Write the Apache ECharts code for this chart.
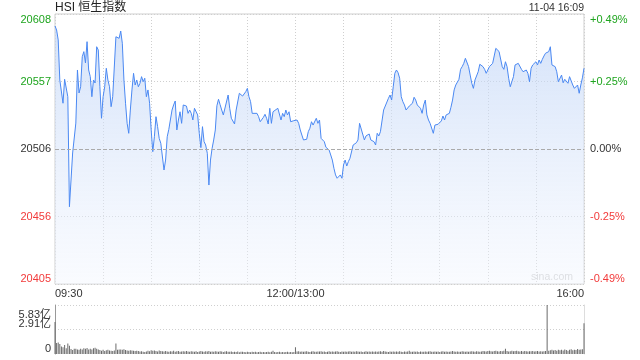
<!DOCTYPE html>
<html><head><meta charset="utf-8">
<script src="https://cdn.jsdelivr.net/npm/echarts@6/dist/echarts.min.js"></script>
<style>html,body{margin:0;padding:0;background:#fff}#c{width:640px;height:360px}</style>
</head><body><div id="c"></div>
<script>
// ---- data ----
const title = 'HSI 恒生指数';
const stamp = '11-04 16:09';
const prevClose = 20506.5;
const priceTickLabels = ['20405', '20456', '20506', '20557', '20608'];
const pctTickLabels = ['-0.49%', '-0.25%', '0.00%', '+0.25%', '+0.49%'];
const volTickLabels = ['0', '2.91亿', '5.83亿'];
const xTickMinutes = [0, 150, 330];
const xTickLabels = ['09:30', '12:00/13:00', '16:00'];
// trading minute offset from 09:30 (lunch break removed)
const minutes = [0,1,2,3,4,5,6,7,8,9,10,11,13,14,15,16,17,18,19,20,21,22,23,24,25,26,27,28,29,30,31,32,33,34,35,36,38,39,40,41,42,43,44,45,46,47,48,49,50,51,52,53,54,55,56,57,58,59,60,61,62,63,64,65,66,67,68,69,70,71,72,73,74,75,76,77,78,79,80,81,82,83,84,85,86,87,88,89,90,91,92,93,94,95,96,97,98,99,100,101,102,103,104,105,106,108,109,110,111,112,113,115,116,117,119,120,121,122,123,124,126,127,128,130,131,132,133,134,135,136,137,139,140,141,142,143,144,145,146,147,149,150,151,152,153,154,155,157,158,159,160,161,162,163,164,165,166,167,168,169,170,171,172,173,174,175,176,177,178,179,180,181,182,183,184,185,186,187,188,189,190,191,193,194,195,196,197,198,199,200,201,202,203,204,205,206,208,209,210,211,212,213,214,215,216,217,218,219,220,221,222,223,224,225,226,227,228,229,230,231,232,233,234,235,236,237,238,239,240,241,242,243,244,245,246,247,248,249,250,251,252,253,254,255,256,257,258,259,260,261,262,263,264,265,266,267,268,269,270,271,272,273,274,275,276,277,278,279,280,281,282,283,284,285,286,287,288,289,290,291,292,293,294,295,296,297,298,299,300,301,302,303,304,305,306,307,308,309,310,311,312,313,314,315,316,317,318,319,320,321,322,323,324,325,326,327,328,329,330];
const prices = [20599.0,20596.0,20588.5,20558.4,20558.4,20540.9,20558.9,20559.1,20545.8,20463.1,20483.2,20503.5,20526.0,20565.9,20548.6,20553.3,20575.9,20579.7,20571.2,20587.2,20565.9,20560.9,20545.8,20558.4,20556.1,20583.4,20580.9,20553.3,20529.6,20545.8,20553.3,20567.2,20558.4,20553.3,20538.3,20545.8,20590.9,20589.7,20589.7,20595.2,20586.0,20558.4,20540.9,20525.8,20518.3,20535.8,20550.9,20563.4,20554.6,20558.4,20553.3,20555.9,20560.9,20557.1,20559.7,20545.8,20550.9,20540.9,20520.8,20504.5,20515.7,20530.8,20523.3,20514.5,20510.8,20509.5,20490.7,20498.2,20515.7,20521.3,20521.3,20535.8,20539.6,20542.6,20520.8,20528.3,20534.5,20525.8,20539.6,20538.8,20538.8,20533.3,20535.8,20533.3,20528.3,20537.1,20535.8,20532.1,20518.3,20507.5,20523.3,20512.0,20509.5,20503.3,20479.4,20498.2,20507.0,20513.3,20520.8,20539.0,20543.9,20539.8,20535.8,20532.1,20533.3,20547.1,20537.1,20529.6,20528.3,20525.3,20535.8,20548.4,20548.4,20546.3,20549.6,20552.1,20545.8,20542.1,20533.3,20534.5,20533.3,20530.8,20527.0,20530.3,20532.6,20529.6,20525.3,20537.1,20525.8,20534.5,20535.8,20537.1,20536.3,20528.3,20533.3,20530.8,20535.8,20532.1,20534.5,20527.0,20527.8,20527.0,20528.3,20525.8,20520.8,20517.0,20513.3,20513.8,20519.5,20522.1,20527.0,20524.5,20525.3,20529.6,20525.8,20528.3,20514.5,20513.3,20512.0,20507.8,20508.2,20505.7,20502.0,20498.2,20492.0,20487.0,20484.5,20483.2,20487.0,20484.5,20494.5,20498.2,20493.7,20497.0,20499.5,20500.7,20509.5,20509.5,20511.2,20513.3,20525.8,20525.8,20513.3,20516.3,20517.0,20517.8,20513.3,20512.7,20512.0,20509.5,20518.3,20516.3,20519.5,20519.5,20535.8,20537.1,20544.6,20547.1,20543.3,20553.3,20563.4,20565.9,20563.9,20559.7,20545.8,20542.1,20539.6,20535.8,20535.8,20538.8,20539.6,20540.9,20545.4,20543.3,20539.6,20539.6,20537.1,20533.3,20539.6,20543.3,20532.1,20528.3,20525.8,20524.5,20518.3,20524.5,20524.5,20525.1,20526.3,20527.6,20531.3,20528.3,20532.1,20533.3,20533.3,20537.9,20543.3,20550.9,20554.6,20555.9,20558.9,20566.4,20568.4,20570.9,20574.7,20573.4,20568.4,20562.1,20555.9,20552.1,20558.4,20559.7,20564.6,20570.2,20569.7,20568.4,20566.4,20563.4,20564.6,20568.4,20569.7,20570.9,20572.1,20582.2,20580.9,20579.8,20578.9,20568.4,20566.4,20572.1,20568.4,20559.7,20553.3,20557.1,20560.9,20569.7,20568.9,20570.9,20569.7,20566.4,20564.6,20563.9,20565.9,20563.4,20557.1,20567.2,20569.7,20568.4,20572.1,20569.7,20573.4,20570.9,20573.9,20576.4,20578.5,20577.9,20579.7,20583.4,20569.7,20569.7,20568.4,20564.6,20557.1,20556.3,20562.1,20556.3,20558.9,20558.4,20555.9,20560.9,20559.7,20554.6,20552.1,20552.1,20554.6,20548.4,20554.6,20560.0,20567.2];
// volume per minute (亿), index = minute offset
const volumes = [
3.80,
1.30,1.38,1.18,0.90,0.79,1.06,0.67,1.26,0.98,0.59,
0.47,0.63,0.63,0.55,0.51,0.63,0.55,0.67,0.63,0.71,
0.55,0.63,0.55,0.67,0.75,0.63,0.55,0.47,0.39,0.51,
0.35,0.45,0.50,0.43,0.40,0.36,0.42,1.26,0.50,0.55,
0.55,0.52,0.58,0.47,0.43,0.39,0.45,0.41,0.38,0.35,
0.40,0.36,0.30,0.33,0.28,0.25,0.30,0.39,0.32,0.45,
0.38,0.42,0.35,0.30,0.41,0.37,0.33,0.29,0.36,0.31,
0.27,0.34,0.30,0.38,0.28,0.32,0.35,0.26,0.30,0.33,
0.29,0.36,0.31,0.27,0.34,0.30,0.28,0.33,0.25,0.31,
0.36,0.29,0.27,0.32,0.30,0.35,0.28,0.31,0.26,0.33,
0.30,0.27,0.32,0.29,0.25,0.31,0.34,0.28,0.26,0.30,
0.23,0.27,0.25,0.30,0.22,0.26,0.28,0.24,0.21,0.27,
0.25,0.22,0.28,0.24,0.26,0.20,0.23,0.27,0.22,0.25,
0.21,0.24,0.26,0.22,0.28,0.39,0.25,0.21,0.23,0.26,
0.22,0.25,0.20,0.24,0.27,0.22,0.24,0.21,0.23,0.79,
0.30,0.33,0.28,0.31,0.26,0.29,0.32,0.27,0.25,0.30,
0.33,0.28,0.26,0.31,0.29,0.34,0.27,0.30,0.25,0.28,
0.32,0.27,0.30,0.26,0.29,0.33,0.28,0.25,0.30,0.27,
0.31,0.26,0.29,0.34,0.28,0.30,0.26,0.32,0.29,0.27,
0.30,0.25,0.28,0.33,0.27,0.29,0.26,0.31,0.28,0.30,
0.26,0.29,0.32,0.27,0.36,0.30,0.28,0.25,0.31,0.27,
0.29,0.26,0.30,0.28,0.32,0.27,0.25,0.29,0.26,0.30,
0.39,0.28,0.26,0.31,0.27,0.29,0.25,0.30,0.28,0.26,
0.30,0.27,0.29,0.32,0.26,0.28,0.31,0.27,0.30,0.25,
0.29,0.33,0.27,0.30,0.28,0.26,0.31,0.35,0.29,0.27,
0.30,0.28,0.26,0.32,0.29,0.27,0.31,0.28,0.30,0.33,
0.29,0.27,0.34,0.30,0.28,0.31,0.36,0.32,0.29,0.35,
0.38,0.33,0.30,0.36,0.40,0.34,0.31,0.37,0.33,0.39,
0.63,0.35,0.30,0.34,0.38,0.32,0.36,0.40,0.33,0.30,
0.35,0.31,0.37,0.33,0.29,0.34,0.32,0.36,0.30,0.33,
0.35,0.31,0.34,0.30,0.33,0.36,5.83,0.38,0.45,0.50,
0.42,0.48,0.40,0.52,0.45,0.50,0.42,0.55,0.47,0.40,
0.50,0.58,0.45,0.52,0.48,0.60,0.50,0.55,0.58,3.65
];

// ---- derived ----
const halfRange = 101.5;          // price axis half range around prev close
const step = halfRange / 2;
const volMax = 5.83;
const upColor = '#1fa51f', downColor = '#f23a3a', flatColor = '#333';
const tickColors = [downColor, downColor, flatColor, upColor, upColor];
const tickIdx = v => Math.round((+v + halfRange) / step);
const volIdx = v => Math.round(+v / (volMax / 2));
const xLabelMap = {};
xTickMinutes.forEach((m, i) => { xLabelMap[m] = xTickLabels[i]; });
const FONT = '"Liberation Sans", Arial, "Noto Sans CJK SC", sans-serif';

const chart = echarts.init(document.getElementById('c'), null, {renderer: 'canvas'});
chart.setOption({
  animation: false,
  textStyle: {fontFamily: FONT},
  grid: [
    {left: 55, right: 56, top: 14, height: 270, show: true, borderColor: '#cfcfcf', borderWidth: 1},
    {left: 55, right: 56, top: 305, height: 49}
  ],
  xAxis: [
    {gridIndex: 0, type: 'value', min: 0, max: 330, interval: 30,
     axisLine: {show: false}, axisTick: {show: false},
     splitLine: {show: true, lineStyle: {color: '#cfcfcf', type: [1, 2], width: 1}},
     axisLabel: {fontSize: 11, color: '#333', margin: 4, fontFamily: FONT,
       showMinLabel: true, showMaxLabel: true, hideOverlap: false,
       alignMinLabel: 'left', alignMaxLabel: 'right',
       formatter: v => (xLabelMap[v] !== undefined ? xLabelMap[v] : '')}},
    {gridIndex: 1, type: 'value', min: 0, max: 330, show: false}
  ],
  yAxis: [
    {gridIndex: 0, type: 'value', position: 'left', min: -halfRange, max: halfRange, interval: step,
     axisLine: {show: false}, axisTick: {show: false},
     splitLine: {show: true, lineStyle: {color: ['#cfcfcf', '#cfcfcf', 'rgba(0,0,0,0)', '#cfcfcf', '#cfcfcf'], type: [1, 2]}},
     axisLabel: {fontSize: 11, margin: 4, fontFamily: FONT, showMinLabel: true, showMaxLabel: true,
       verticalAlignMinLabel: 'bottom', verticalAlignMaxLabel: 'top',
       formatter: v => priceTickLabels[tickIdx(v)],
       color: v => tickColors[tickIdx(v)]}},
    {gridIndex: 0, type: 'value', position: 'right', min: -halfRange, max: halfRange, interval: step,
     axisLine: {show: false}, axisTick: {show: false}, splitLine: {show: false},
     axisLabel: {fontSize: 11, margin: 6, fontFamily: FONT, showMinLabel: true, showMaxLabel: true,
       verticalAlignMinLabel: 'bottom', verticalAlignMaxLabel: 'top',
       formatter: v => pctTickLabels[tickIdx(v)],
       color: v => tickColors[tickIdx(v)]}},
    // volume axis: border, grid lines, lower labels
    {gridIndex: 1, type: 'value', position: 'left', min: 0, max: volMax, interval: volMax / 2,
     axisLine: {show: true, lineStyle: {color: '#999'}}, axisTick: {show: false},
     splitLine: {show: true, lineStyle: {color: ['rgba(0,0,0,0)', '#cfcfcf', '#cfcfcf'], type: [1, 2]}},
     axisLabel: {fontSize: 11, margin: 4, color: '#333', fontFamily: FONT, verticalAlign: 'bottom',
       showMinLabel: true, showMaxLabel: true,
       formatter: v => (volIdx(v) < 2 ? volTickLabels[volIdx(v)] : '')}},
    {gridIndex: 1, type: 'value', position: 'right', min: 0, max: volMax,
     axisLine: {show: true, lineStyle: {color: '#ddd'}}, axisTick: {show: false},
     splitLine: {show: false}, axisLabel: {show: false}},
    // volume axis: top label only
    {gridIndex: 1, type: 'value', position: 'left', offset: 0, min: 0, max: volMax, interval: volMax / 2,
     axisLine: {show: false}, axisTick: {show: false}, splitLine: {show: false},
     axisLabel: {fontSize: 11, margin: 4, color: '#333', fontFamily: FONT, verticalAlign: 'top',
       showMinLabel: true, showMaxLabel: true, padding: [4, 0, 0, 0],
       formatter: v => (volIdx(v) === 2 ? volTickLabels[2] : '')}}
  ],
  series: [
    {type: 'line', xAxisIndex: 0, yAxisIndex: 0,
     data: minutes.map((m, i) => [m, +(prices[i] - prevClose).toFixed(2)]),
     showSymbol: false, symbol: 'none',
     lineStyle: {color: '#4a88f2', width: 1},
     areaStyle: {origin: 'start', color: new echarts.graphic.LinearGradient(0, 0, 0, 1, [
       {offset: 0, color: 'rgba(188,210,246,0.9)'},
       {offset: 1, color: 'rgba(242,246,254,0.6)'}])},
     markLine: {silent: true, symbol: 'none', label: {show: false},
       lineStyle: {color: '#aaa', type: [4, 2], width: 1},
       data: [{yAxis: 0}]}},
    {type: 'bar', xAxisIndex: 1, yAxisIndex: 2,
     data: volumes.map((v, i) => [i, v]),
     barWidth: 1, itemStyle: {color: '#6a6a6a'}}
  ],
  graphic: [
    {type: 'text', left: 55, top: 2, style: {text: title, fontSize: 12, fill: '#222', fontFamily: FONT}},
    {type: 'text', right: 56, top: 3, style: {text: stamp, fontSize: 10.5, fill: '#333', fontFamily: FONT}},
    {type: 'text', right: 67, top: 272, style: {text: 'sina.com', fontSize: 10.5, fill: '#cfcfcf', fontFamily: FONT}}
  ]
});
</script>
</body></html>
